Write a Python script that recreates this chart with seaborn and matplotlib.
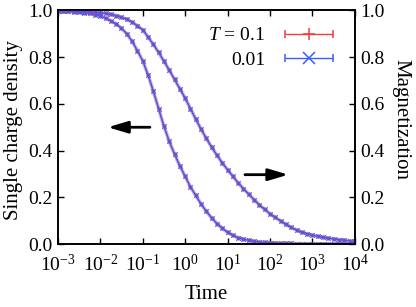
import numpy as np
import pandas as pd
import matplotlib
matplotlib.use("Agg")
import matplotlib.pyplot as plt
import seaborn as sns
from matplotlib.legend_handler import HandlerErrorbar
from matplotlib.ticker import NullLocator, FormatStrFormatter, MultipleLocator

# ---------------- data ----------------
log_time = np.arange(-3, 4.0001, 0.125)          # simulation sampling grid
time = 10.0 ** log_time

charge_T01 = [0.998, 0.997, 0.996, 0.995, 0.993, 0.990, 0.987, 0.982, 0.976, 0.967,
              0.956, 0.942, 0.924, 0.900, 0.868, 0.828, 0.785, 0.725, 0.655, 0.580,
              0.505, 0.440, 0.385, 0.335, 0.290, 0.245, 0.208, 0.172, 0.140, 0.112,
              0.088, 0.068, 0.050, 0.037, 0.028, 0.021, 0.016, 0.012, 0.009, 0.007,
              0.0055, 0.0045, 0.0037, 0.0030, 0.0025, 0.0020, 0.0017, 0.0014, 0.0012, 0.0010,
              0.0009, 0.0008, 0.0007, 0.0006, 0.0005, 0.0005, 0.0004]
charge_T001 = list(charge_T01)

mag_T01 = [0.999, 0.999, 0.998, 0.997, 0.996, 0.995, 0.994, 0.992, 0.990, 0.987,
           0.983, 0.978, 0.971, 0.962, 0.950, 0.935, 0.917, 0.887, 0.855, 0.820,
           0.783, 0.745, 0.705, 0.665, 0.625, 0.580, 0.535, 0.492, 0.452, 0.415,
           0.380, 0.348, 0.318, 0.290, 0.262, 0.237, 0.213, 0.190, 0.168, 0.148,
           0.130, 0.114, 0.099, 0.084, 0.071, 0.060, 0.051, 0.044, 0.038, 0.033,
           0.029, 0.025, 0.022, 0.019, 0.016, 0.014, 0.012]
mag_T001 = list(mag_T01)

temps = ["0.1", "0.01"]
legend_labels = [r"$T$ = 0.1", "0.01"]
colors = {"0.1": "#f23c3c", "0.01": "#3c5cff"}
markers = {"0.1": "+", "0.01": "x"}

# arrows: (tail, head) in data coords
arrow_left = ((10 ** -0.83, 0.50), (10 ** -1.82, 0.50))
arrow_right = ((10 ** 1.41, 0.297), (10 ** 2.43, 0.297))

x_ticks = [1e-3, 1e-2, 1e-1, 1e0, 1e1, 1e2, 1e3, 1e4]

# ---------------- long-form table ----------------
frames = []
for q, series in (("charge", {"0.1": charge_T01, "0.01": charge_T001}),
                  ("mag", {"0.1": mag_T01, "0.01": mag_T001})):
    for T in temps:
        frames.append(pd.DataFrame({"time": time, "value": series[T], "T": T, "q": q}))
df = pd.concat(frames, ignore_index=True)

# ---------------- style ----------------
sns.set_theme(style="ticks")
plt.rcParams["font.family"] = ["Liberation Serif", "DejaVu Serif"]
plt.rcParams["mathtext.fontset"] = "custom"
plt.rcParams["mathtext.rm"] = "Liberation Serif"
plt.rcParams["mathtext.it"] = "Liberation Serif:italic"
plt.rcParams["axes.linewidth"] = 1.2
FS = 14
LFS = 15

fig = plt.figure(figsize=(4.16, 3.07), dpi=100)
fig.patch.set_facecolor("white")
ax = fig.add_axes([0.139, 0.205, 0.714, 0.761])
ax2 = ax.twinx()

for axis, q in ((ax, "charge"), (ax2, "mag")):
    sub = df[df["q"] == q]
    sns.lineplot(data=sub, x="time", y="value", hue="T", hue_order=temps,
                 palette=colors, estimator=None, legend=False, ax=axis,
                 lw=2.6, alpha=0.25)
    for T in temps:
        s2 = sub[sub["T"] == T]
        sns.lineplot(data=s2, x="time", y="value", color=colors[T], estimator=None,
                     legend=False, ax=axis, lw=0.9)
        sns.scatterplot(data=s2, x="time", y="value", color=colors[T],
                        marker=markers[T], s=10, linewidth=0.9, legend=False, ax=axis)

for axis in (ax, ax2):
    axis.set_xscale("log")
    axis.set_xlim(1e-3, 1e4)
    axis.set_ylim(0, 1)
    axis.yaxis.set_major_locator(MultipleLocator(0.2))
    axis.yaxis.set_major_formatter(FormatStrFormatter("%.1f"))
    axis.set_xlabel("")
    axis.set_ylabel("")
    for sp in axis.spines.values():
        sp.set_visible(True)
        sp.set_linewidth(1.2)
        sp.set_color("black")

ax.set_xticks(x_ticks)
ax.xaxis.set_minor_locator(NullLocator())
ax.tick_params(axis="both", which="major", direction="in", length=4, width=1,
               labelsize=FS, colors="black", pad=4, top=True, right=False)
ax.tick_params(axis="x", pad=7)
ax2.tick_params(axis="y", which="major", direction="in", length=4, width=1,
                labelsize=FS, colors="black", pad=4, left=False, right=True)

ax.set_xlabel("Time", fontsize=LFS, color="black", labelpad=7)
ax.set_ylabel("Single charge density", fontsize=LFS, color="black")
ax.yaxis.set_label_coords(-0.118, 0.49)
ax2.set_ylabel("Magnetization", fontsize=LFS, color="black", rotation=270, va="center")
ax2.yaxis.set_label_coords(1.155, 0.535)

arrow_kw = dict(arrowstyle="-|>,head_length=0.6,head_width=0.18", lw=2.0,
                color="black", shrinkA=0, shrinkB=0, mutation_scale=20)
for tail, head in (arrow_left, arrow_right):
    ax2.annotate("", xy=head, xytext=tail, arrowprops=arrow_kw)

# legend with horizontal error-bar handles
handles = []
for T in temps:
    h = ax2.errorbar([np.nan], [np.nan], xerr=[1.0], fmt=markers[T], color=colors[T],
                     ms=8, mew=1.1, elinewidth=1.0, capsize=2.6, capthick=1.0)
    handles.append(h)
hl = 2.5
leg = ax2.legend(handles, legend_labels, loc="upper right",
                 bbox_to_anchor=(0.928, 0.93), frameon=False, fontsize=FS,
                 markerfirst=False, handlelength=hl, handletextpad=1.0,
                 labelspacing=0.35, borderpad=0, borderaxespad=0,
                 handler_map={type(handles[0]): HandlerErrorbar(xerr_size=hl / 2, numpoints=1)})
for t in leg.get_texts():
    t.set_color("black")

fig.savefig("out.png", dpi=100, facecolor="white")
